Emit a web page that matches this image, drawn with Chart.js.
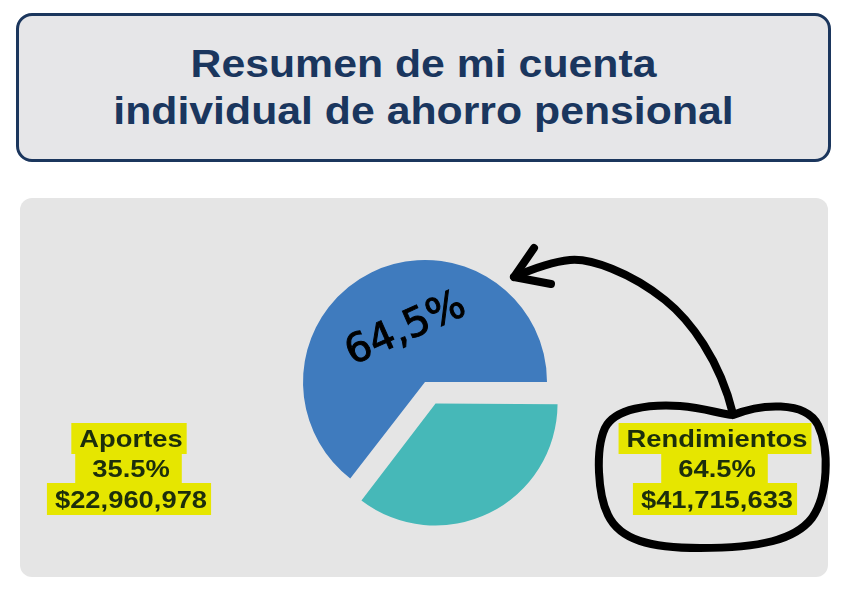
<!DOCTYPE html>
<html><head><meta charset="utf-8">
<script src="https://cdn.jsdelivr.net/npm/chart.js@4.4.1/dist/chart.umd.min.js"></script>
<style>
html,body{margin:0;padding:0;background:#fff;width:857px;height:602px;overflow:hidden;font-family:"Liberation Sans",Arial,sans-serif;}
#title{position:absolute;left:16px;top:13px;width:809px;height:143px;border:3px solid #1B365D;border-radius:16px;background:#E6E6E8;box-sizing:content-box;}
#title div{position:absolute;left:0;width:100%;text-align:center;color:#1A365E;font-weight:bold;font-size:39px;line-height:40px;transform:scaleX(1.097);transform-origin:50% 50%;}
#panel{position:absolute;left:20px;top:198px;width:808px;height:379px;border-radius:12px;background:#E5E5E5;}
#wrap{position:absolute;left:0;top:0;width:857px;height:602px;}
</style></head>
<body>
<div id="title"><div style="top:28px">Resumen de mi cuenta</div><div style="top:75px">individual de ahorro pensional</div></div>
<div id="panel"></div>
<div id="wrap"><canvas id="c" width="857" height="602"></canvas></div>
<script>
const categories = ['Aportes', 'Rendimientos'];
const percents = [35.5, 64.5];
const amounts = ['$22,960,978', '$41,715,633'];
const handNote = '64,5%';
const colors = ['#46B8B8', '#3F7BBE'];

// keep exploded slice the same radius as the others
const sameRadius = {
  id: 'sameRadius',
  afterDatasetsUpdate(chart) {
    chart.getDatasetMeta(0).data.forEach(arc => {
      const o = (arc.options.offset || 0) / 4;
      const fix = 1 - Math.sin(Math.min(Math.PI, arc.circumference || 0));
      arc.outerRadius = arc.outerRadius - o * fix;
    });
  }
};

const annotate = {
  id: 'annotate',
  afterDraw(chart) {
    const ctx = chart.ctx;
    const spots = [{x:131, y:447}, {x:717, y:447}];
    const sx = 1.14;
    const pads = [[8, 4], [17, 12], [8, 4]];
    ctx.save();
    ctx.font = 'bold 24px "Liberation Sans", Arial, sans-serif';
    ctx.textAlign = 'center';
    ctx.textBaseline = 'alphabetic';
    categories.forEach((cat, i) => {
      const lines = [cat, percents[i].toFixed(1) + '%', amounts[i]];
      const ys = [0, 30, 61];
      ctx.fillStyle = '#E6E600';
      lines.forEach((t, j) => {
        const w = ctx.measureText(t).width * sx;
        const y = spots[i].y + ys[j];
        const top = j === 0 ? y - 24 : y - 25;
        const h = j === 2 ? 32 : 31;
        ctx.fillRect(spots[i].x - w/2 - pads[j][0], top, w + pads[j][0] + pads[j][1], h);
      });
      ctx.fillStyle = '#1C2E0C';
      lines.forEach((t, j) => {
        ctx.save();
        ctx.translate(spots[i].x, spots[i].y + ys[j]);
        ctx.scale(sx, 1);
        ctx.fillText(t, 0, 0);
        ctx.restore();
      });
    });
    ctx.restore();

    // hand-drawn note on the blue slice
    ctx.save();
    ctx.translate(406, 330);
    ctx.rotate(-24 * Math.PI / 180);
    ctx.font = '40px "DejaVu Sans", sans-serif';
    ctx.fillStyle = '#000';
    ctx.strokeStyle = '#000';
    ctx.lineWidth = 1;
    ctx.textAlign = 'center';
    ctx.textBaseline = 'middle';
    ctx.fillText(handNote, 0, 0);
    ctx.strokeText(handNote, 0, 0);
    ctx.restore();

    // hand-drawn circle and arrow
    ctx.save();
    ctx.strokeStyle = '#000';
    ctx.lineWidth = 8;
    ctx.lineCap = 'round';
    ctx.lineJoin = 'round';
    ctx.beginPath();
    ctx.moveTo(733, 415);
    ctx.bezierCurveTo(760, 404, 805, 400, 818, 425);
    ctx.bezierCurveTo(830, 450, 828, 495, 812, 518);
    ctx.bezierCurveTo(795, 540, 760, 548, 700, 548);
    ctx.bezierCurveTo(650, 548, 620, 540, 608, 515);
    ctx.bezierCurveTo(598, 495, 595, 450, 605, 428);
    ctx.bezierCurveTo(615, 408, 650, 404, 680, 406);
    ctx.bezierCurveTo(705, 408, 720, 414, 733, 415);
    ctx.stroke();
    ctx.beginPath();
    ctx.moveTo(733, 414);
    ctx.bezierCurveTo(720, 360, 690, 320, 665, 300);
    ctx.bezierCurveTo(630, 272, 590, 258, 570, 260);
    ctx.bezierCurveTo(550, 262, 530, 270, 514, 277);
    ctx.stroke();
    ctx.beginPath();
    ctx.moveTo(534, 248);
    ctx.lineTo(514, 277);
    ctx.lineTo(551, 284);
    ctx.stroke();
    ctx.restore();
  }
};

new Chart(document.getElementById('c'), {
  type: 'pie',
  data: {
    labels: categories,
    datasets: [{
      data: percents,
      backgroundColor: colors,
      borderWidth: 0,
      offset: [96, 0]
    }]
  },
  options: {
    responsive: false,
    animation: false,
    rotation: 90,
    radius: 122,
    layout: { padding: { left: 0, right: 7, top: 162, bottom: 0 } },
    plugins: { legend: { display: false }, tooltip: { enabled: false } }
  },
  plugins: [sameRadius, annotate]
});
</script>
</body></html>
